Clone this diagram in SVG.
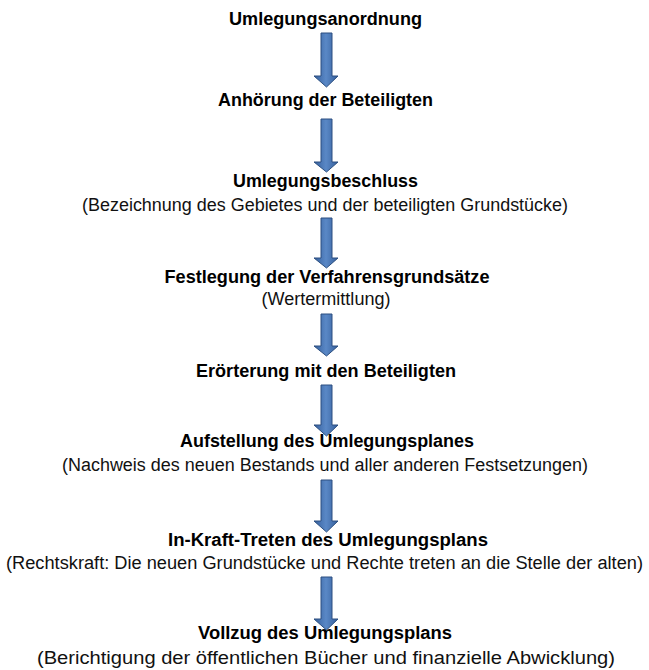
<svg xmlns="http://www.w3.org/2000/svg" width="649" height="670" viewBox="0 0 649 670">
<defs>
<linearGradient id="ag" x1="0" y1="0" x2="1" y2="0">
<stop offset="0" stop-color="#355f9c"/>
<stop offset="0.5" stop-color="#5a88c6"/>
<stop offset="1" stop-color="#355f9c"/>
</linearGradient>
<style>
.t{font-family:"Liberation Sans",Arial,sans-serif;font-size:17.5px;font-weight:bold;fill:#000;text-anchor:middle}
.s{font-family:"Liberation Sans",Arial,sans-serif;font-size:18px;fill:#111;text-anchor:middle}
.a{fill:url(#ag);stroke:#2c4f80;stroke-width:1}
</style>
</defs>
<rect width="649" height="670" fill="#fff"/>
<g id="connectors">
<path class="a" d="M321,33 H332 V76 H338 L326.5,87 L314,76 H321 Z"/>
<path class="a" d="M321,119 H332 V162 H338 L326.5,172 L314,162 H321 Z"/>
<path class="a" d="M321,218 H332 V258 H338 L326.5,268 L314,258 H321 Z"/>
<path class="a" d="M321,314 H332 V346 H338 L326.5,356 L314,346 H321 Z"/>
<path class="a" d="M321,385 H332 V425 H338 L326.5,436 L314,425 H321 Z"/>
<path class="a" d="M321,480 H332 V521 H338 L326.5,532 L314,521 H321 Z"/>
<path class="a" d="M321,577 H332 V619 H338 L326.5,630 L314,619 H321 Z"/>
</g>
<g id="n1"><text class="t" x="325.5" y="25" textLength="193" lengthAdjust="spacingAndGlyphs">Umlegungsanordnung</text></g>
<g id="n2"><text class="t" x="325.5" y="106" textLength="215" lengthAdjust="spacingAndGlyphs">Anhörung der Beteiligten</text></g>
<g id="n3"><text class="t" x="325.5" y="187" textLength="185" lengthAdjust="spacingAndGlyphs">Umlegungsbeschluss</text>
<text class="s" x="325" y="211" textLength="486" lengthAdjust="spacingAndGlyphs">(Bezeichnung des Gebietes und der beteiligten Grundstücke)</text></g>
<g id="n4"><text class="t" x="327" y="283" textLength="325" lengthAdjust="spacingAndGlyphs">Festlegung der Verfahrensgrundsätze</text>
<text class="s" x="326" y="305" textLength="129" lengthAdjust="spacingAndGlyphs">(Wertermittlung)</text></g>
<g id="n5"><text class="t" x="326" y="377" textLength="260" lengthAdjust="spacingAndGlyphs">Erörterung mit den Beteiligten</text></g>
<g id="n6"><text class="t" x="327" y="447" textLength="294" lengthAdjust="spacingAndGlyphs">Aufstellung des Umlegungsplanes</text>
<text class="s" x="325" y="471" textLength="526" lengthAdjust="spacingAndGlyphs">(Nachweis des neuen Bestands und aller anderen Festsetzungen)</text></g>
<g id="n7"><text class="t" x="328" y="546" textLength="320" lengthAdjust="spacingAndGlyphs">In-Kraft-Treten des Umlegungsplans</text>
<text class="s" x="324.5" y="569" textLength="637" lengthAdjust="spacingAndGlyphs">(Rechtskraft: Die neuen Grundstücke und Rechte treten an die Stelle der alten)</text></g>
<g id="n8"><text class="t" x="325" y="639" textLength="254" lengthAdjust="spacingAndGlyphs">Vollzug des Umlegungsplans</text>
<text class="s" x="326" y="664" textLength="578" lengthAdjust="spacingAndGlyphs">(Berichtigung der öffentlichen Bücher und finanzielle Abwicklung)</text></g>
</svg>
